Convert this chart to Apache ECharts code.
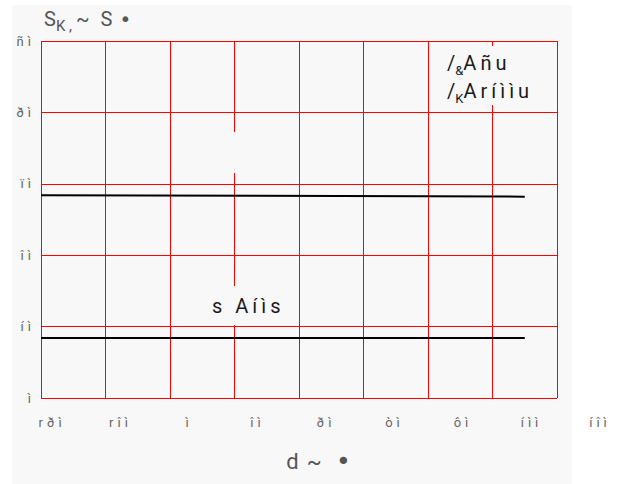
<!DOCTYPE html>
<html><head><meta charset="utf-8">
<script src="https://cdn.jsdelivr.net/npm/echarts@6/dist/echarts.min.js"></script>
<style>
html,body{margin:0;padding:0;background:#fff}
#c{width:626px;height:484px;letter-spacing:4px}
#c text[fill="#555556"], #c text[fill="#1a1a1b"]{letter-spacing:0}
</style>
</head><body><div id="c"></div>
<script>
// ---- data ----
const xTickLabels = ['rðì','rîì','ì','îì','ðì','òì','ôì','íìì','íîì'];
const yTickLabels = ['ì','íì','îì','ïì','ðì','ñì'];
const xMin = -40, xMax = 120, xStep = 20;
const yMin = 0, yMax = 50, yStep = 10;
const upperX = [-40, 110];
const upperY = [28.4, 28.2];
const lowerX = [-40, 110];
const lowerY = [8.4, 8.4];
const xNameParts = ['d', '~ ', '•'];
const yNameParts = ['S', 'K ,', '~ ', 'S', '•'];
const legendLine1 = ['/', '&', 'Añu'];
const legendLine2 = ['/', 'K', 'Aríììu'];
const noteText = 's Aíìs';

// ---- chart ----
const chart = echarts.init(document.getElementById('c'), null, {renderer: 'svg'});
const RED = '#ff0000';
const FONT = 'Roboto, "Noto Sans", sans-serif';
const DOTFONT = '"DejaVu Sans", sans-serif';
const GRAY_NS = '#555556';   // grey, no letter spacing
const INK = '#1a1a1a';
const INK_NS = '#1a1a1b';    // ink, no letter spacing
const xFmt = v => xTickLabels[Math.round((v - xMin) / xStep)];
const yFmt = v => yTickLabels[Math.round((v - yMin) / yStep)];

const legendRich = {
  i: {fontSize: 20, lineHeight: 28, fill: INK_NS, fontFamily: FONT},
  s: {fontSize: 13, lineHeight: 13, verticalAlign: 'bottom', fill: INK_NS, fontFamily: FONT},
  m: {fontSize: 20, lineHeight: 28, fill: INK, fontFamily: FONT}
};
const legendStr = '{i|' + legendLine1[0] + '}{s|' + legendLine1[1] + '}{m|' + legendLine1[2] + '}\n' +
                  '{i|' + legendLine2[0] + '}{s|' + legendLine2[1] + '}{m|' + legendLine2[2] + '}';

const yNameRich = {
  a: {fontSize: 20, lineHeight: 24, verticalAlign: 'top', fill: GRAY_NS, fontFamily: FONT},
  sub: {fontSize: 15, lineHeight: 11, verticalAlign: 'bottom', fill: GRAY_NS, fontFamily: FONT, padding: [0, 4, 0, 0]},
  t: {fontSize: 20, lineHeight: 24, verticalAlign: 'top', fill: GRAY_NS, fontFamily: FONT, padding: [0, 6, 0, 0]},
  s2: {fontSize: 20, lineHeight: 24, verticalAlign: 'top', fill: GRAY_NS, fontFamily: FONT, padding: [0, 7, 0, 0]},
  dot: {fontSize: 20, lineHeight: 17, verticalAlign: 'top', fill: GRAY_NS, fontFamily: DOTFONT}
};
const yNameStr = '{a|' + yNameParts[0] + '}{sub|' + yNameParts[1] + '}{t|' + yNameParts[2] + '}{s2|' + yNameParts[3] + '}{dot|' + yNameParts[4] + '}';

const option = {
  backgroundColor: '#ffffff',
  animation: false,
  graphic: [
    {type: 'rect', z: -10, silent: true, shape: {x: 12, y: 5, width: 560, height: 479}, style: {fill: '#f8f8f8'}},
    {type: 'rect', z: 50, silent: true, shape: {x: 226, y: 132, width: 18, height: 41}, style: {fill: '#f8f8f8'}},
    {type: 'text', z: 60, silent: true, x: 442, y: 46,
      style: {text: legendStr, rich: legendRich, backgroundColor: '#f8f8f8', padding: [3, 6, 0, 5], align: 'left', verticalAlign: 'top'}},
    {type: 'text', z: 60, silent: true, x: 206, y: 286,
      style: {text: noteText, fontSize: 20, lineHeight: 20, fontFamily: FONT, fill: INK, backgroundColor: '#f8f8f8', padding: [10, 6, 9, 6], align: 'left', verticalAlign: 'top'}},
    {type: 'text', z: 60, silent: true, x: 44, y: 9,
      style: {text: yNameStr, rich: yNameRich, align: 'left', verticalAlign: 'top'}}
  ],
  grid: [
    {left: 41, right: 69, top: 41, bottom: 86},
    {left: 52, right: 26, top: 41, bottom: 86}
  ],
  xAxis: [
    {gridIndex: 0, type: 'value', min: xMin, max: xMax, interval: xStep,
      axisLine: {show: false}, axisTick: {show: false}, axisLabel: {show: false},
      splitLine: {show: true, lineStyle: {color: RED, width: 1}}},
    {gridIndex: 1, type: 'value', min: xMin, max: xMax, interval: xStep,
      axisLine: {show: false}, axisTick: {show: false}, splitLine: {show: false},
      axisLabel: {margin: 18, color: '#666', fontSize: 13, fontFamily: FONT, formatter: xFmt},
      name: '{a|' + xNameParts[0] + '}{b|' + xNameParts[1] + '}{c|' + xNameParts[2] + '}',
      nameLocation: 'middle', nameGap: 50,
      nameTextStyle: {padding: [0, 15, 0, 0],
        rich: {
          a: {color: GRAY_NS, fontSize: 22, lineHeight: 26, fontFamily: FONT, padding: [0, 8, 0, 0]},
          b: {color: GRAY_NS, fontSize: 22, lineHeight: 26, fontFamily: FONT, padding: [0, 9, 0, 0]},
          c: {color: GRAY_NS, fontSize: 25, lineHeight: 26, fontFamily: DOTFONT}
        }}}
  ],
  yAxis: [
    {gridIndex: 0, type: 'value', min: yMin, max: yMax, interval: yStep,
      axisLine: {show: false}, axisTick: {show: false},
      splitLine: {show: true, lineStyle: {color: RED, width: 1}},
      axisLabel: {margin: 6, color: '#666', fontSize: 13, fontFamily: FONT, formatter: yFmt}},
    {gridIndex: 1, type: 'value', min: yMin, max: yMax, interval: yStep, show: false}
  ],
  series: [
    {type: 'line', xAxisIndex: 0, yAxisIndex: 0, symbol: 'none', silent: true,
      data: upperX.map((x, i) => [x, upperY[i]]), lineStyle: {color: '#000', width: 2}},
    {type: 'line', xAxisIndex: 0, yAxisIndex: 0, symbol: 'none', silent: true,
      data: lowerX.map((x, i) => [x, lowerY[i]]), lineStyle: {color: '#000', width: 2}}
  ]
};
chart.setOption(option);
</script></body></html>
